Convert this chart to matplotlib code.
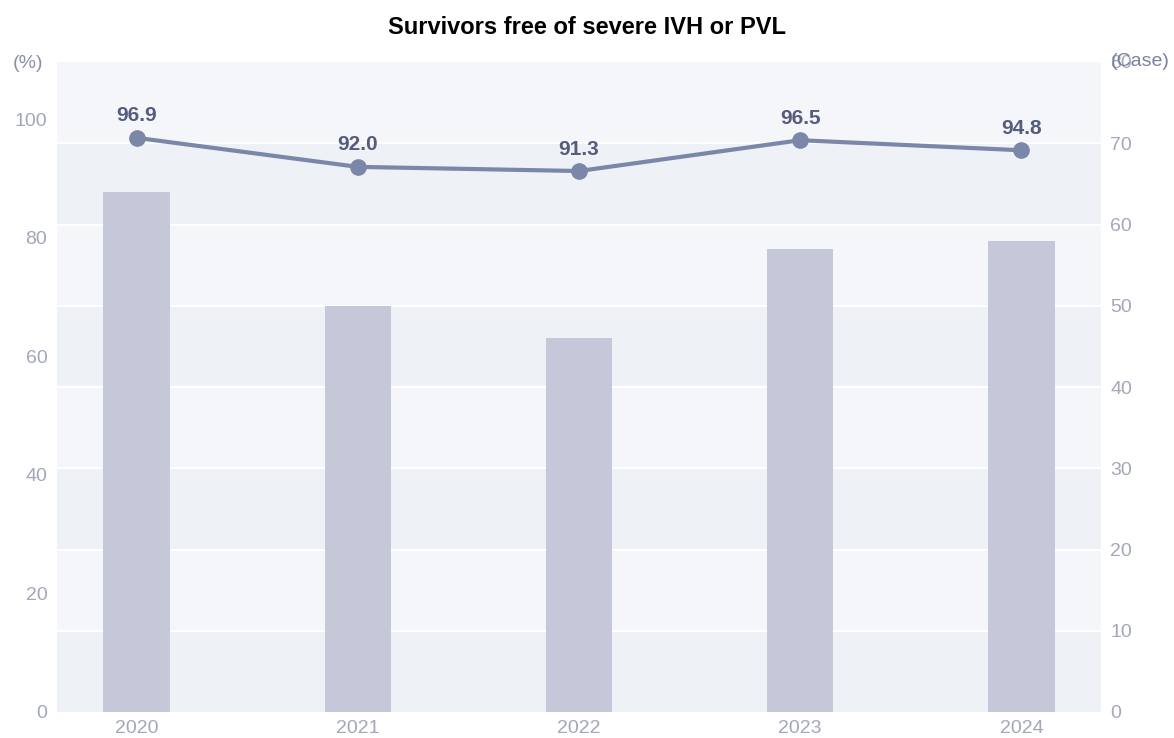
import matplotlib
import matplotlib.pyplot as plt
import numpy as np

matplotlib.use("Agg")

plt.rcParams["font.family"] = ["Liberation Sans", "DejaVu Sans"]

years = ["2020", "2021", "2022", "2023", "2024"]
cases = [64, 50, 46, 57, 58]
rate = [96.9, 92.0, 91.3, 96.5, 94.8]

tick_color = "#a3a7ba"
band_dark = "#eef1f6"
band_light = "#f5f6fa"

fig = plt.figure(figsize=(11.74, 7.38), dpi=100)
ax = fig.add_axes([57 / 1174, 1 - 712 / 738, 1044 / 1174, 650 / 738])
ax2 = ax.twinx()

x = np.arange(len(years))

# background bands follow the case axis (10-unit steps)
for lo in range(0, 80, 10):
    ax2.axhspan(lo, lo + 10, color=band_dark if (lo // 10) % 2 == 0 else band_light,
                lw=0, zorder=0)
for y in range(10, 80, 10):
    ax2.axhline(y, color="white", lw=1.5, zorder=1)

ax2.bar(x, cases, width=0.3, color="#c5c8d8", zorder=2)
ax2.set_ylim(0, 80)
ax2.set_yticks(range(0, 90, 10))

ax.set_ylim(0, 109.7)
ax.set_yticks(range(0, 120, 20))
ax.set_xlim(-0.36, 4.36)
ax.set_xticks(x)
ax.set_xticklabels(years)

# line series sits on top of the bars
ax.set_zorder(ax2.get_zorder() + 1)
ax.patch.set_visible(False)
ax.plot(x, rate, color="#7a87a8", lw=3, marker="o", ms=11, zorder=5)
for xi, v in zip(x, rate):
    ax.annotate(f"{v:.1f}", (xi, v), xytext=(0, 9), textcoords="offset points",
                ha="center", va="bottom", fontsize=15, fontweight="bold",
                color="#555c7c")

for a in (ax, ax2):
    for s in a.spines.values():
        s.set_visible(False)
    a.tick_params(length=0, labelsize=14, colors=tick_color)
ax.tick_params(axis="y", pad=7)
ax.tick_params(axis="x", pad=6)
ax2.tick_params(axis="y", pad=6.5)

fig.text(28 / 1174, 1 - 63 / 738, "(%)", ha="center", va="center",
         fontsize=14, color="#8a8fa8")
fig.text(1140 / 1174, 1 - 62 / 738, "(Case)", ha="center", va="center",
         fontsize=14, color="#7a80a0")
fig.text(0.5, 1 - 27 / 738, "Survivors free of severe IVH or PVL",
         ha="center", va="center", fontsize=17, fontweight="bold", color="black")

fig.savefig("out.png", dpi=100)
